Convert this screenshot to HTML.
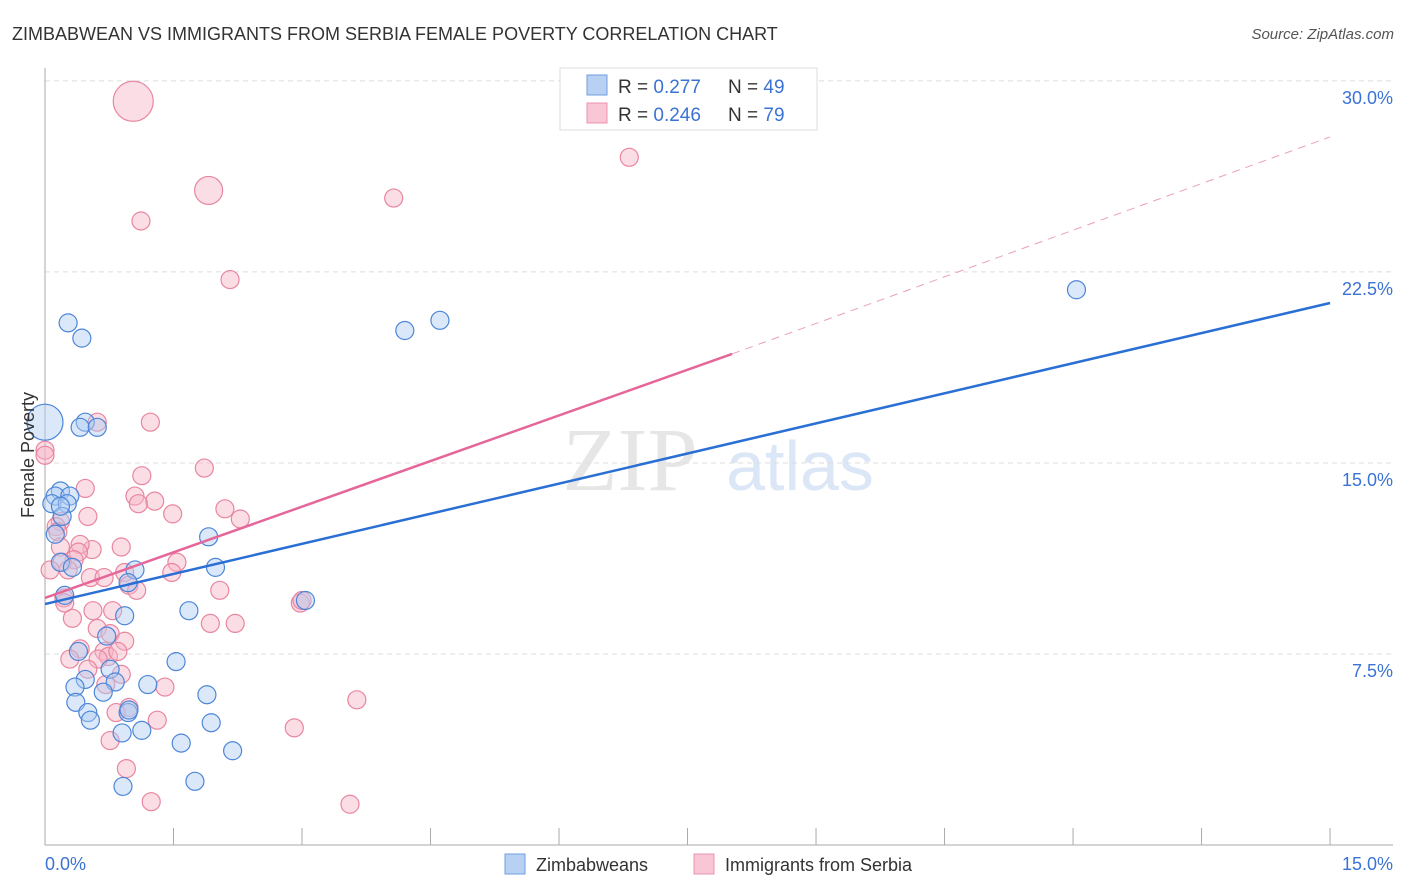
<!DOCTYPE html>
<html><head><meta charset="utf-8"><style>
body{margin:0;background:#fff;font-family:"Liberation Sans",sans-serif;}
svg{display:block}
</style></head><body>
<svg width="1406" height="892" id="c">
<text x="12" y="40" font-size="18" fill="#333">ZIMBABWEAN VS IMMIGRANTS FROM SERBIA FEMALE POVERTY CORRELATION CHART</text>
<text x="1394" y="39" font-size="15" fill="#555" font-style="italic" text-anchor="end">Source: ZipAtlas.com</text>
<text x="630" y="490" font-size="90" fill="#e6e6e6" font-family="Liberation Serif" text-anchor="middle">ZIP</text>
<text x="800" y="490" font-size="70" fill="#dbe6f6" text-anchor="middle">atlas</text>
<g id="grid"></g><g id="axes"></g><g id="pts"></g><g id="lines"></g>
<text transform="translate(34,455) rotate(-90)" font-size="18" fill="#333" text-anchor="middle">Female Poverty</text>
<text x="45" y="870" font-size="18" fill="#3b73d4">0.0%</text>
<text x="1393" y="870" font-size="18" fill="#3b73d4" text-anchor="end">15.0%</text>
<g>
<rect x="560" y="68" width="257" height="62" fill="#fff" stroke="#ddd"/>
<rect x="587" y="75" width="20" height="20" fill="#b8d1f3" stroke="#6e9de0"/>
<rect x="587" y="103" width="20" height="20" fill="#f9c6d5" stroke="#ec93ae"/>
<text x="618" y="93" font-size="19" fill="#333">R = <tspan fill="#3b73d4">0.277</tspan><tspan x="728">N = </tspan><tspan fill="#3b73d4">49</tspan></text>
<text x="618" y="121" font-size="19" fill="#333">R = <tspan fill="#3b73d4">0.246</tspan><tspan x="728">N = </tspan><tspan fill="#3b73d4">79</tspan></text>
</g>
<g>
<rect x="505" y="854" width="20" height="20" fill="#b8d1f3" stroke="#6e9de0"/>
<text x="536" y="871" font-size="18" fill="#333">Zimbabweans</text>
<rect x="694" y="854" width="20" height="20" fill="#f9c6d5" stroke="#ec93ae"/>
<text x="725" y="871" font-size="18" fill="#333">Immigrants from Serbia</text>
</g>
</svg>
<script>
const yTicks=[7.5,15,22.5,30];
const yTickLabels=["7.5%","15.0%","22.5%","30.0%"];
const xTicks=[0,1.5,3,4.5,6,7.5,9,10.5,12,13.5,15];
const blueX=[0,0.27,0.43,0.47,0.41,0.61,0.18,0.12,0.29,0.08,0.26,0.2,0.12,0.18,0.32,1.05,0.97,0.23,0.93,1.68,1.91,1.99,3.04,0.72,0.39,0.76,1.53,0.47,0.82,0.35,0.68,1.2,0.36,0.5,0.53,1.89,1.94,0.97,1.13,0.9,1.59,2.19,1.75,0.91,4.2,4.61,12.04,0.98,0.18];
const blueY=[16.6,20.5,19.9,16.6,16.4,16.4,13.9,13.7,13.7,13.4,13.4,12.9,12.2,11.1,10.9,10.8,10.3,9.8,9.0,9.2,12.1,10.9,9.6,8.2,7.6,6.9,7.2,6.5,6.4,6.2,6.0,6.3,5.6,5.2,4.9,5.9,4.8,5.2,4.5,4.4,4.0,3.7,2.5,2.3,20.2,20.6,21.8,5.3,13.3];
const blueR=[18];
const pinkX=[1.03,1.91,1.12,2.16,4.07,6.82,0,0,1.23,0.61,1.86,1.13,0.47,1.05,1.28,1.09,2.1,1.49,2.28,0.5,0.18,0.13,0.15,0.18,0.89,0.55,0.41,0.39,0.34,0.2,0.27,1.54,0.93,0.06,0.53,0.69,1.48,0.98,1.07,2.04,0.22,0.23,0.56,0.79,0.32,1.93,2.22,0.61,0.76,0.93,0.41,0.69,0.74,0.29,0.62,0.85,0.5,0.89,0.71,1.4,3.64,0.98,0.83,1.31,2.91,0.76,0.95,1.24,3.56,2.98,3.0];
const pinkY=[29.2,25.7,24.5,22.2,25.4,27.0,15.5,15.3,16.6,16.6,14.8,14.5,14.0,13.7,13.5,13.4,13.2,13.0,12.8,12.9,12.7,12.5,12.3,11.7,11.7,11.6,11.8,11.5,11.2,11.1,10.8,11.1,10.7,10.8,10.5,10.5,10.7,10.2,10.0,10.0,9.7,9.5,9.2,9.2,8.9,8.7,8.7,8.5,8.3,8.0,7.7,7.6,7.4,7.3,7.3,7.6,6.9,6.7,6.3,6.2,5.7,5.4,5.2,4.9,4.6,4.1,3.0,1.7,1.6,9.5,9.6];
const pinkR=[20,14];
const blueLine=[[0,9.46],[15,21.28]];
const pinkLine=[[0,9.7],[8.02,19.28]];
const pinkDash=[[8.02,19.28],[15,27.8]];
const X=v=>45+v*85.67, Y=v=>845-v*25.47;
const ns="http://www.w3.org/2000/svg";
function mk(t,a,p){const e=document.createElementNS(ns,t);for(const k in a)e.setAttribute(k,a[k]);p.appendChild(e);return e;}
const grid=document.getElementById('grid'),axes=document.getElementById('axes'),pts=document.getElementById('pts'),lines=document.getElementById('lines');
yTicks.forEach((v,i)=>{
 const l=mk('line',{x1:45,x2:1393,y1:Y(v),y2:Y(v),stroke:'#ddd','stroke-dasharray':'5,4'},grid);
 
 
 const t=mk('text',{x:1393,y:Y(v)+23,'font-size':18,fill:'#3b73d4','text-anchor':'end'},grid);
 t.textContent=yTickLabels[i];
 
 
});
const ya=mk('line',{x1:45,x2:45,y1:68,y2:845,stroke:'#aaa'},axes);


const xa=mk('line',{x1:45,x2:1393,y1:845,y2:845,stroke:'#aaa'},axes);


xTicks.forEach(v=>{const t=mk('line',{x1:X(v),x2:X(v),y1:828,y2:845,stroke:'#aaa'},axes);
 
 });
function dots(xs,ys,rs,fill,stroke,name){xs.forEach((x,i)=>{
 const c=mk('circle',{cx:X(x),cy:Y(ys[i]),r:rs[i]||9,fill:fill,'fill-opacity':0.45,stroke:stroke,'stroke-width':1.2},pts);
 
 });}
dots(pinkX,pinkY,pinkR,'#f7b3c8','#e9869f','serbia-point');
dots(blueX,blueY,blueR,'#aecbf2','#4d86d8','zimbabwean-point');
function ln(p,col,w,dash,name){const l=mk('line',{x1:X(p[0][0]),y1:Y(p[0][1]),x2:X(p[1][0]),y2:Y(p[1][1]),stroke:col,'stroke-width':w},lines);
 if(dash)l.setAttribute('stroke-dasharray',dash);
 
 }
ln(blueLine,'#2a6fd4',2.5,null,'zimbabwean-trendline');
ln(pinkLine,'#e5679a',2.5,null,'serbia-trendline');
ln(pinkDash,'#eba0b8',1,'8,6','serbia-trendline-extension');
</script>
</body></html>
